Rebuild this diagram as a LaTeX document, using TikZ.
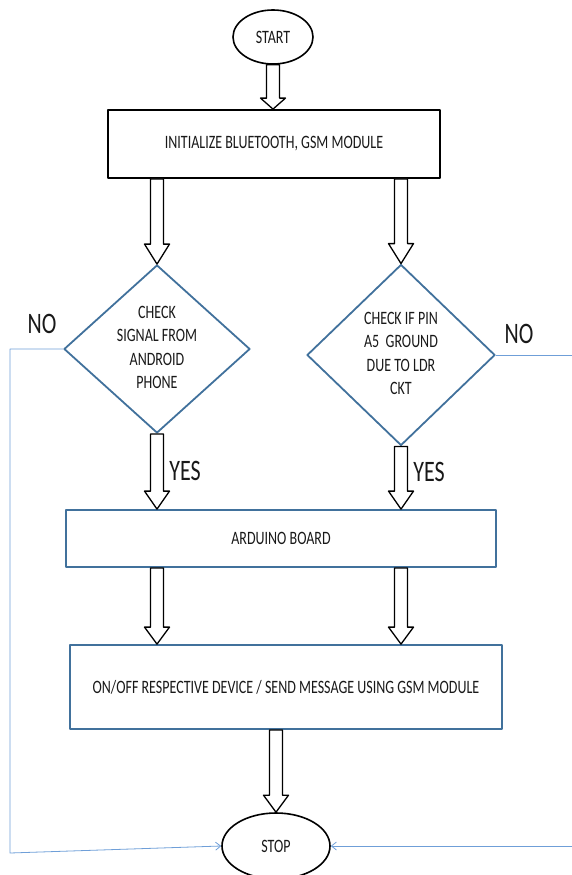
\documentclass[tikz,border=0pt]{standalone}
\usepackage{fontspec}
\setmainfont{Carlito}
\usepackage{graphicx}
\usetikzlibrary{shapes.geometric,calc,arrows.meta}
\definecolor{boxblue}{HTML}{41719C}
\definecolor{lineblue}{HTML}{6F9FD8}
\newcommand{\tx}[1]{\scalebox{1}[1.35]{#1}}

\begin{document}
\begin{tikzpicture}[x=1pt,y=-1pt,line join=round,
    txt/.style={font=\fontsize{14}{17.4}\selectfont,text=black!90},
    term/.style={txt,ellipse,draw,line width=1.6pt,inner sep=0pt},
    initbox/.style={txt,rectangle,draw,line width=1.8pt,inner sep=0pt},
    bluebox/.style={txt,rectangle,draw=boxblue,line width=1.8pt,inner sep=0pt},
    chk/.style={txt,diamond,draw=boxblue,line width=1.8pt,inner sep=0pt,aspect=1.1},
    lbl/.style={font=\fontsize{22}{26}\selectfont,text=black!90,inner sep=0pt},
    hollow/.style={draw=black,line width=1.3pt,fill=white},
    noline/.style={draw=lineblue,line width=0.8pt,-{Straight Barb[length=5pt,width=8pt]}}]
  \useasboundingbox (0,0) rectangle (571,875);
  % from, to, head length
  \def\bigarrow#1#2#3{\draw[hollow] let \p1=(#1), \p2=(#2) in
    (\x1-6.5pt,\y1) -- (\x1-6.5pt,\y2+#3) -- (\x1-12.5pt,\y2+#3) -- (\x1,\y2)
    -- (\x1+12.5pt,\y2+#3) -- (\x1+6.5pt,\y2+#3) -- (\x1+6.5pt,\y1) -- cycle;}

  \node[term,minimum width=80,minimum height=54] (start) at (273,37) {\tx{START}};
  \node[initbox,minimum width=332,minimum height=68] (init) at (274,144)
    {\tx{INITIALIZE BLUETOOTH, GSM MODULE}};
  \node[chk,minimum width=186,minimum height=168] (ldia) at (157,349)
    {\tx{\begin{tabular}{@{}c@{}}CHECK\\SIGNAL FROM\\ANDROID\\PHONE\end{tabular}}};
  \node[chk,minimum width=188,minimum height=181] (rdia) at (401,355)
    {\tx{\begin{tabular}{@{}c@{}}CHECK IF PIN\\A5~ GROUND\\DUE TO LDR\\CKT\end{tabular}}};
  \node[bluebox,minimum width=430,minimum height=57] (ard) at (281,538.5)
    {\tx{ARDUINO BOARD}};
  \node[bluebox,minimum width=432,minimum height=84] (act) at (286,687)
    {\tx{ON/OFF RESPECTIVE DEVICE / SEND MESSAGE USING GSM MODULE}};
  \node[term,minimum width=108,minimum height=66] (stop) at (276,846) {\tx{STOP}};

  \node[lbl] (nol) at (42,324) {\tx{NO}};
  \node[lbl] (nor) at (519,334) {\tx{NO}};
  \node[lbl] (yesl) at (185,471) {\tx{YES}};
  \node[lbl] (yesr) at (429,472) {\tx{YES}};

  \bigarrow{start.south}{init.north}{11pt}
  \bigarrow{ldia.north |- init.south}{ldia.north}{20pt}
  \bigarrow{rdia.north |- init.south}{rdia.north}{20pt}
  \bigarrow{ldia.south}{ldia.south |- ard.north}{18pt}
  \bigarrow{rdia.south}{rdia.south |- ard.north}{18pt}
  \bigarrow{ldia.south |- ard.south}{ldia.south |- act.north}{17pt}
  \bigarrow{rdia.south |- ard.south}{rdia.south |- act.north}{17pt}
  \bigarrow{stop.north |- act.south}{stop.north}{17pt}

  \coordinate (lbot) at (10,853);
  \coordinate (rbot) at (590,846);
  \draw[noline] (ldia.west) -| (lbot) -- (stop.west);
  \draw[noline] (rdia.east) -| (rbot) -- (stop.east);
\end{tikzpicture}
\end{document}
